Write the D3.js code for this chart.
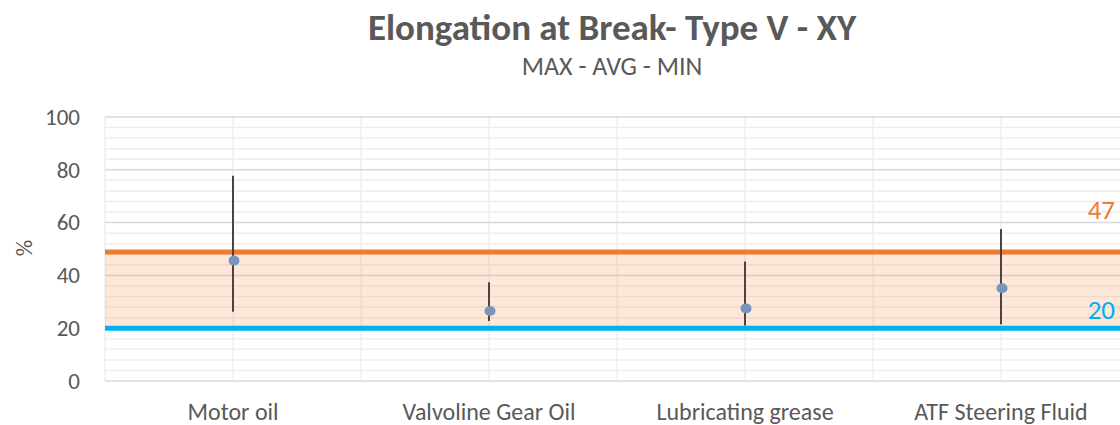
<!DOCTYPE html>
<html>
<head>
<meta charset="utf-8">
<script src="https://cdn.jsdelivr.net/npm/d3@7"></script>
<style>
  body { margin: 0; background: #fff; }
  text { font-family: Calibri, Carlito, "Open Sans", sans-serif; fill: #595959; }
</style>
</head>
<body>
<div id="chart-area"></div>
<script>
// data
var categories = ["Motor oil", "Valvoline Gear Oil", "Lubricating grease", "ATF Steering Fluid"];
var maxValues = [77.7, 37.4, 45.3, 57.6];
var avgValues = [45.6, 26.5, 27.5, 35.1];
var minValues = [26.2, 22.7, 21.0, 21.5];
var upperLimit = 48.9;
var lowerLimit = 20;
var limitLabels = ["47", "20"];
var yTicks = [0, 20, 40, 60, 80, 100];

var W = 1120, H = 425;
var margins = { left: 105, right: -9, top: 117, bottom: 44 };
var width = W - margins.left - margins.right;   // 4 bands of 256
var height = H - margins.top - margins.bottom;
var fontFam = "Calibri, Carlito, 'Open Sans', sans-serif";

var svg = d3.select("#chart-area").append("svg")
    .attr("width", W)
    .attr("height", H);

var g = svg.append("g")
    .attr("transform", "translate(" + margins.left + "," + margins.top + ")");

var x = d3.scaleBand().domain(categories).range([0, width]);
var y = d3.scaleLinear().domain([0, 100]).range([height, 0]);

// minor gridlines
g.selectAll(".minor")
    .data(d3.range(0, 101, 4).filter(function(v){ return v % 20 !== 0; }))
    .enter().append("line")
    .attr("x1", 0).attr("x2", width)
    .attr("y1", function(d){ return y(d); })
    .attr("y2", function(d){ return y(d); })
    .attr("stroke", "#eeeeee").attr("stroke-width", 1.5);

// vertical gridlines
g.selectAll(".vgrid")
    .data(d3.range(0, categories.length + 1))
    .enter().append("line")
    .attr("x1", function(i){ return i * x.step(); })
    .attr("x2", function(i){ return i * x.step(); })
    .attr("y1", 0).attr("y2", height)
    .attr("stroke", "#efefef").attr("stroke-width", 1.5);

g.selectAll(".vcat")
    .data(categories)
    .enter().append("line")
    .attr("x1", function(d){ return x(d) + x.bandwidth() / 2; })
    .attr("x2", function(d){ return x(d) + x.bandwidth() / 2; })
    .attr("y1", 0).attr("y2", height)
    .attr("stroke", "#efefef").attr("stroke-width", 1.5);

// major gridlines
g.selectAll(".major")
    .data(yTicks)
    .enter().append("line")
    .attr("x1", 0).attr("x2", width)
    .attr("y1", function(d){ return y(d); })
    .attr("y2", function(d){ return y(d); })
    .attr("stroke", "#d9d9d9").attr("stroke-width", 1.5);

// tolerance band
g.append("rect")
    .attr("x", 0)
    .attr("y", y(upperLimit))
    .attr("width", width)
    .attr("height", y(lowerLimit) - y(upperLimit))
    .attr("fill", "#ed7d31")
    .attr("opacity", 0.19);

// limit lines
g.append("line")
    .attr("x1", 0).attr("x2", width)
    .attr("y1", y(upperLimit)).attr("y2", y(upperLimit))
    .attr("stroke", "#ed7d31").attr("stroke-width", 5);

g.append("line")
    .attr("x1", 0).attr("x2", width)
    .attr("y1", y(lowerLimit)).attr("y2", y(lowerLimit))
    .attr("stroke", "#00b0f0").attr("stroke-width", 5);

// error bars
g.selectAll(".bar")
    .data(categories)
    .enter().append("line")
    .attr("x1", function(d){ return x(d) + x.bandwidth() / 2; })
    .attr("x2", function(d){ return x(d) + x.bandwidth() / 2; })
    .attr("y1", function(d, i){ return y(maxValues[i]); })
    .attr("y2", function(d, i){ return y(minValues[i]); })
    .attr("stroke", "#4b4340").attr("stroke-width", 2);

// averages
g.selectAll(".dot")
    .data(categories)
    .enter().append("ellipse")
    .attr("cx", function(d){ return x(d) + x.bandwidth() / 2 + 1; })
    .attr("cy", function(d, i){ return y(avgValues[i]); })
    .attr("rx", 5.5).attr("ry", 5)
    .attr("fill", "#7896bb");

// limit labels
g.append("text")
    .attr("x", 1115 - margins.left).attr("y", 219 - margins.top)
    .attr("text-anchor", "end")
    .attr("font-size", "27px")
    .style("fill", "#ed7d31")
    .text(limitLabels[0]);

g.append("text")
    .attr("x", 1115 - margins.left).attr("y", y(lowerLimit) - 9)
    .attr("text-anchor", "end")
    .attr("font-size", "27px")
    .style("fill", "#00b0f0")
    .text(limitLabels[1]);

// y axis
var yAxis = g.append("g")
    .call(d3.axisLeft(y).tickValues(yTicks).tickSize(0).tickPadding(25));
yAxis.select(".domain").remove();
yAxis.selectAll("text").attr("font-size", "23px").style("fill", "#595959")
    .attr("font-family", fontFam);

// x axis
var xAxis = g.append("g")
    .attr("transform", "translate(0," + height + ")")
    .call(d3.axisBottom(x).tickSize(0).tickPadding(22));
xAxis.select(".domain").remove();
xAxis.selectAll("text").attr("font-size", "24px").style("fill", "#595959")
    .attr("font-family", fontFam);

// axis title
svg.append("text")
    .attr("transform", "translate(32,248) rotate(-90)")
    .attr("text-anchor", "middle")
    .attr("font-size", "23px")
    .text("%");

// titles
svg.append("text")
    .attr("x", 612).attr("y", 40)
    .attr("text-anchor", "middle")
    .attr("font-size", "37px")
    .attr("font-weight", "bold")
    .text("Elongation at Break- Type V - XY");

svg.append("text")
    .attr("x", 612).attr("y", 75)
    .attr("text-anchor", "middle")
    .attr("font-size", "26px")
    .text("MAX - AVG - MIN");
</script>
</body>
</html>
